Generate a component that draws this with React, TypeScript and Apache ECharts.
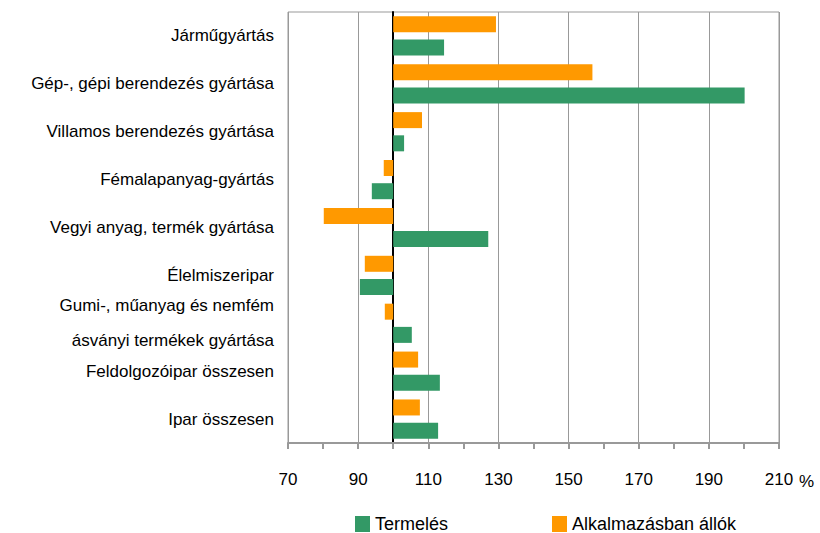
import React, { useEffect, useRef } from "react";
import * as echarts from "echarts";

const categories = [
  "Járműgyártás",
  "Gép-, gépi berendezés gyártása",
  "Villamos berendezés gyártása",
  "Fémalapanyag-gyártás",
  "Vegyi anyag, termék gyártása",
  "Élelmiszeripar",
  "Gumi-, műanyag és nemfém\násványi termékek gyártása",
  "Feldolgozóipar összesen",
  "Ipar összesen",
];
const termeles = [114.5, 200.2, 103.1, 93.9, 127.1, 90.5, 105.3, 113.3, 112.8];
const alkalmazas = [129.3, 156.8, 108.2, 97.3, 80.2, 91.9, 97.6, 107.1, 107.6];
const BASE = 100;
const xTicks = { min: 70, max: 210, step: 20 };

const FONT = "'Liberation Sans', Arial, sans-serif";

export default function App() {
  const ref = useRef<HTMLDivElement>(null);
  useEffect(() => {
    document.body.style.margin = "0";
    const chart = echarts.init(ref.current!, undefined, { renderer: "svg" });
    chart.setOption({
      animation: false,
      textStyle: { fontFamily: FONT },
      grid: {
        left: 288,
        right: 41,
        top: 12,
        bottom: 90,
        show: true,
        borderColor: "#999",
        borderWidth: 1,
      },
      legend: {
        data: ["Termelés", "Alkalmazásban állók"],
        left: 350,
        top: 510,
        itemWidth: 15,
        itemHeight: 16,
        itemGap: 104,
        icon: "rect",
        textStyle: { fontSize: 18, lineHeight: 18, color: "#000", fontFamily: FONT },
      },
      xAxis: {
        type: "value",
        min: xTicks.min - BASE,
        max: xTicks.max - BASE,
        interval: xTicks.step,
        axisLine: { show: true, lineStyle: { color: "#999", width: 2 } },
        axisTick: { show: true, length: 6, lineStyle: { color: "#999", width: 2 } },
        minorTick: { show: true, splitNumber: 2, length: 6, lineStyle: { color: "#999", width: 2 } },
        splitLine: { show: true, lineStyle: { color: "#999", width: 1 } },
        axisLabel: {
          margin: 28,
          fontSize: 17,
          color: "#000",
          fontFamily: FONT,
          formatter: (v: number) => String(v + BASE),
        },
      },
      yAxis: {
        type: "category",
        inverse: true,
        data: categories,
        axisLine: { show: true, onZero: true, lineStyle: { color: "#000", width: 2 } },
        axisTick: { show: false },
        axisLabel: {
          fontSize: 17,
          color: "#000",
          fontFamily: FONT,
          lineHeight: 35,
          margin: 0,
          padding: [0, 14, 0, 0],
          align: "right",
        },
      },
      graphic: [
        {
          type: "text",
          left: 799,
          top: 473,
          style: { text: "%", fontSize: 17, fill: "#000", fontFamily: FONT },
        },
      ],
      series: [
        {
          name: "Alkalmazásban állók",
          type: "bar",
          data: alkalmazas.map((v) => +(v - BASE).toFixed(2)),
          barWidth: 16,
          barGap: "45%",
          itemStyle: { color: "#FF9900" },
        },
        {
          name: "Termelés",
          type: "bar",
          data: termeles.map((v) => +(v - BASE).toFixed(2)),
          barWidth: 16,
          barGap: "45%",
          itemStyle: { color: "#339966" },
        },
      ],
    });
    return () => chart.dispose();
  }, []);
  return <div ref={ref} style={{ width: 820, height: 533 }} />;
}
